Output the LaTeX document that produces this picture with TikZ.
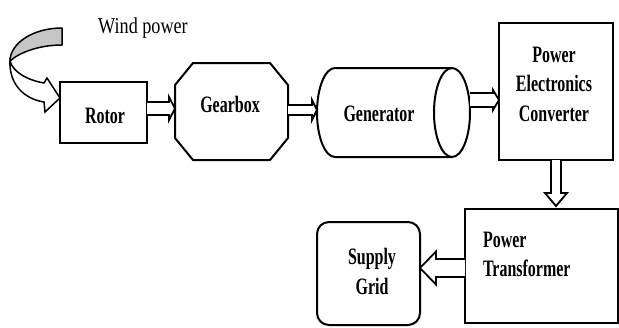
\documentclass[tikz,border=0pt]{standalone}
\usepackage{fontspec}
\setmainfont{Liberation Serif}
\newfontfamily\labfont[FakeStretch=0.68]{Liberation Serif}
\newfontfamily\windfont[FakeStretch=0.8]{Liberation Serif}
\usetikzlibrary{calc}
\tikzset{
  boxshape/.style={draw, line width=#1, inner sep=0pt, outer sep=0pt},
  boxshape/.default=2pt,
  shapeonly/.style={inner sep=0pt, outer sep=0pt},
  lab/.style={font=\labfont\bfseries\fontsize{23.5}{29.5}\selectfont, inner sep=0pt, outer sep=0pt},
  hollow/.style={draw, line width=1.8pt, fill=white, line join=miter},
}
% horizontal hollow arrow: start, tip, body half, head half, head length (signed)
\newcommand{\harrow}[5]{\draw[hollow] ($(#1)+(0,{-1*(#3)})$) -- ($(#2)+({-1*(#5)},{-1*(#3)})$) -- ($(#2)+({-1*(#5)},{-1*(#4)})$) -- (#2) -- ($(#2)+({-1*(#5)},{#4})$) -- ($(#2)+({-1*(#5)},{#3})$) -- ($(#1)+(0,{#3})$);}
% vertical (downward) hollow arrow
\newcommand{\varrow}[5]{\draw[hollow] ($(#1)+({-1*(#3)},0)$) -- ($(#2)+({-1*(#3)},{-1*(#5)})$) -- ($(#2)+({-1*(#4)},{-1*(#5)})$) -- (#2) -- ($(#2)+({#4},{-1*(#5)})$) -- ($(#2)+({#3},{-1*(#5)})$) -- ($(#1)+({#3},0)$);}
\begin{document}
\begin{tikzpicture}[x=1pt,y=-1pt]
\useasboundingbox (0,0) rectangle (619,327);

% wind curved arrow
\draw[line width=1.5pt, fill=gray!45, line join=round]
  (62,28) .. controls (32,28) and (10,44) .. (10,61)
  .. controls (20,52) and (40,45) .. (62,45) -- cycle;
\draw[line width=1.5pt, fill=white, line join=miter]
  (10,61) .. controls (13,72) and (27,80) .. (44,83)
  -- (47,78) -- (60,98) -- (45,112) -- (44,102)
  .. controls (24,99) and (9,84) .. (10,61) -- cycle;
\node[font=\windfont\fontsize{22.7}{26}\selectfont, inner sep=0pt, anchor=base] (wind) at (143,33) {Wind power};

% shapes
\node[boxshape=2.5pt, minimum width=87pt, minimum height=61pt] (rotor) at (103.5,112.5) {};
\node[lab, anchor=base] (rotort) at (105,123) {Rotor};

\node[shapeonly, minimum width=113pt, minimum height=97pt] (gear) at (231.5,111.5) {};
\draw[line width=2pt, line join=miter]
  ($(gear.north west)+(18,0)$) -- ($(gear.north east)+(-18,0)$) -- ($(gear.north east)+(0,22)$)
  -- ($(gear.south east)+(0,-22)$) -- ($(gear.south east)+(-18,0)$) -- ($(gear.south west)+(18,0)$)
  -- ($(gear.south west)+(0,-22)$) -- ($(gear.north west)+(0,22)$) -- cycle;
\node[lab, anchor=base] (geart) at (230,112) {Gearbox};

\node[shapeonly, minimum width=153pt, minimum height=89pt] (gen) at (393.5,112.5) {};
\draw[line width=2pt]
  ($(gen.south west)+(18,0)$) -- ($(gen.south east)+(-18,0)$)
  ($(gen.north east)+(-18,0)$) -- ($(gen.north west)+(18,0)$)
  arc[start angle=90, end angle=270, x radius=18pt, y radius=44.5pt];
\draw[line width=2pt] ($(gen.east)+(-18,0)$) ellipse [x radius=18pt, y radius=44.5pt];
\node[lab, anchor=base] (gent) at (379,121) {Generator};

\node[boxshape=2.8pt, minimum width=114pt, minimum height=137pt] (pec) at (556,91.5) {};
\node[lab, align=center] (pect) at (554,84) {Power\\Electronics\\Converter};

\node[boxshape=2.8pt, minimum width=153pt, minimum height=114pt] (trans) at (541.5,266) {};
\node[lab, align=left, anchor=north west] (transt) at (483,232) {Power\\Transformer};

\node[boxshape=2pt, rounded corners=12pt, minimum width=103pt, minimum height=103pt] (grid) at (368.5,273.5) {};
\node[lab, align=center] (gridt) at (372,271.5) {Supply\\Grid};

% connectors
\coordinate (a1s) at (rotor.east |- 0,108.5);
\coordinate (a1t) at (gear.west |- 0,108.5);
\harrow{a1s}{a1t}{6.5}{11.5}{6}
\coordinate (a2s) at (gear.east |- 0,110);
\coordinate (a2t) at (gen.west |- 0,110);
\harrow{a2s}{a2t}{5}{10}{5}
\coordinate (a3s) at (gen.east |- 0,100);
\coordinate (a3t) at (pec.west |- 0,100);
\harrow{a3s}{a3t}{7}{10}{6}
\coordinate (a4t) at ($(pec.south |- trans.north)+(0,-3)$);
\varrow{pec.south}{a4t}{5}{11}{13}
\coordinate (a5s) at (trans.west |- 0,268);
\coordinate (a5t) at (grid.east |- 0,268);
\harrow{a5s}{a5t}{9}{16.5}{-16}
\end{tikzpicture}
\end{document}
